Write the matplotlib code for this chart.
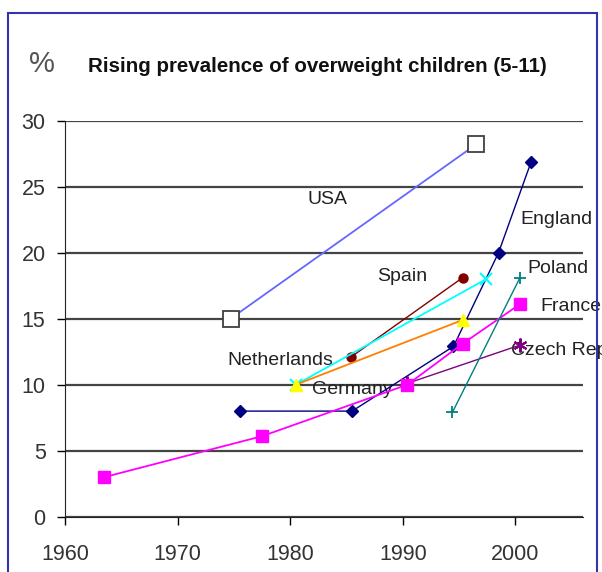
"""
Rising prevalence of overweight children (5-11)
"""

import matplotlib
matplotlib.use('Agg')
import matplotlib.pyplot as plt
from matplotlib.patches import Rectangle

plt.rcParams['font.family'] = ['Liberation Sans', 'DejaVu Sans']

# Verileri
usa_x = [1974.7, 1996.5]
usa_y = [15.0, 28.2]

england_x = [1975.5, 1985.5, 1994.5, 1998.5, 2001.4]
england_y = [8.0, 8.0, 12.9, 20.0, 26.9]

spain_x = [1985.4, 1995.3]
spain_y = [12.1, 18.1]

netherlands_x = [1980.5, 1997.4]
netherlands_y = [10.0, 18.0]

germany_x = [1980.5, 1995.3]
germany_y = [10.0, 14.9]

czech_x = [1990.4, 2000.4]
czech_y = [10.1, 13.0]

france_x = [1963.5, 1977.5, 1990.4, 1995.3, 2000.4]
france_y = [3.0, 6.1, 10.0, 13.1, 16.1]

poland_x = [1994.4, 2000.4]
poland_y = [7.9, 18.1]

# etiketler: (metin, x, y)
labels = [
    ('USA', 1983.3, 24.0, 'center'),
    ('England', 2000.4, 22.5, 'left'),
    ('Spain', 1987.7, 18.2, 'left'),
    ('Poland', 2001.1, 18.8, 'left'),
    ('France', 2002.2, 15.95, 'left'),
    ('Czech Rep', 1999.6, 12.6, 'left'),
    ('Netherlands', 1974.4, 11.8, 'left'),
    ('Germany', 1981.9, 9.6, 'left'),
]

xticks = [1960, 1970, 1980, 1990, 2000]
yticks = [0, 5, 10, 15, 20, 25, 30]

fig = plt.figure(figsize=(6.02, 5.72), dpi=100)
ax = fig.add_axes([65 / 602, 1 - 516.7 / 572, 518 / 602, 396 / 572])

# seriler
ax.plot(usa_x, usa_y, color='#6666ff', lw=1.3, marker='s', ms=11,
        mfc='white', mec='#404040', mew=1.3, zorder=3)
ax.plot(england_x, england_y, color='#000080', lw=1, marker='D', ms=6,
        mfc='#000080', mec='#000080', zorder=3)
ax.plot(spain_x, spain_y, color='#800000', lw=1, marker='o', ms=6.5,
        mfc='#800000', mec='#800000', zorder=3)
ax.plot(netherlands_x, netherlands_y, color='#00ffff', lw=1.3, marker='x', ms=8,
        mec='#00ffff', mew=1.5, zorder=3)
ax.plot(germany_x, germany_y, color='#ff8000', lw=1.3, marker='^', ms=8,
        mfc='#ffff00', mec='#ffff00', zorder=3)
ax.plot(czech_x, czech_y, color='#800080', lw=1, marker=(6, 2, 0), ms=10,
        mec='#800080', mew=1.5, zorder=3)
ax.plot(france_x, france_y, color='#ff00ff', lw=1.3, marker='s', ms=8,
        mfc='#ff00ff', mec='#ff00ff', zorder=3)
ax.plot(poland_x, poland_y, color='#008080', lw=1, marker='+', ms=8,
        mec='#008080', mew=1.3, zorder=3)

for txt, x, y, ha in labels:
    ax.text(x, y, txt, ha=ha, va='center', fontsize=14, color='#222222',
            zorder=1, clip_on=False)

ax.set_xlim(1960, 2006)
ax.set_ylim(0, 30)
ax.set_xticks(xticks)
ax.set_yticks(yticks)
ax.tick_params(axis='both', direction='out', length=6, width=1,
               labelsize=15.5, labelcolor='#333333', pad=8)
ax.tick_params(axis='x', pad=14)
ax.grid(True, axis='y', color='#444444', lw=1.6)
ax.set_axisbelow(True)
for side in ['top', 'right']:
    ax.spines[side].set_visible(False)
ax.spines['left'].set_color('#222222')
ax.spines['bottom'].set_color('#222222')

# başlık
fig.text(42 / 602, 1 - 64 / 572, '%', ha='center', va='center',
         fontsize=21, color='#555555')
fig.text(88 / 602, 1 - 67 / 572, 'Rising prevalence of overweight children (5-11)',
         ha='left', va='center', fontsize=14.8, fontweight='bold', color='#111111')

# çerçeve
fig.patches.append(Rectangle((8 / 602, -0.1), (597 - 8) / 602, (572 - 13) / 572 + 0.1,
                             transform=fig.transFigure, fill=False,
                             edgecolor='#3333aa', lw=1.5))

plt.savefig('out.png', dpi=100)
